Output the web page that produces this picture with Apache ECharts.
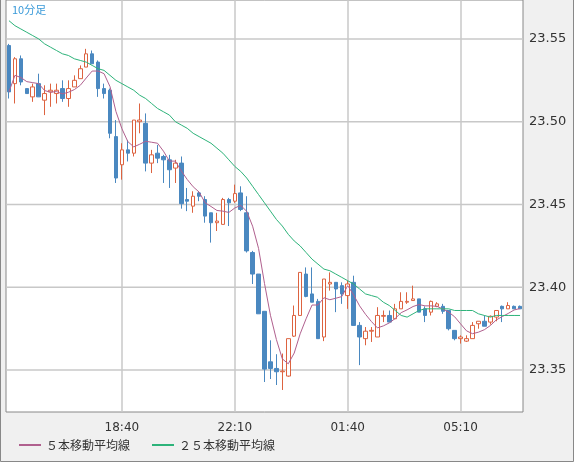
<!DOCTYPE html>
<html><head><meta charset="utf-8">
<script src="https://cdn.jsdelivr.net/npm/echarts@6/dist/echarts.min.js"></script>
<style>html,body{margin:0;padding:0;background:#f0f0f0}#c{width:574px;height:462px}</style>
</head><body><div id="c"></div>
<script>
// [open, close, low, high]
const ohlc = [
[23.546,23.518,23.514,23.547],[23.523,23.538,23.511,23.539],[23.538,23.524,23.522,23.540],[23.520,23.517,23.517,23.520],
[23.515,23.521,23.512,23.523],[23.523,23.515,23.515,23.529],[23.513,23.517,23.504,23.522],[23.518,23.519,23.509,23.523],
[23.517,23.519,23.511,23.523],[23.520,23.514,23.512,23.525],[23.514,23.520,23.509,23.525],[23.521,23.525,23.521,23.528],
[23.526,23.532,23.526,23.534],[23.533,23.541,23.533,23.544],[23.541,23.535,23.535,23.543],[23.536,23.520,23.515,23.537],
[23.520,23.517,23.514,23.523],[23.519,23.493,23.490,23.520],[23.491,23.466,23.463,23.501],[23.474,23.483,23.465,23.487],
[23.483,23.481,23.476,23.489],[23.481,23.501,23.479,23.501],[23.500,23.501,23.493,23.511],[23.499,23.475,23.470,23.505],
[23.475,23.480,23.469,23.483],[23.481,23.478,23.475,23.486],[23.479,23.477,23.463,23.480],[23.477,23.471,23.460,23.480],
[23.472,23.475,23.463,23.477],[23.475,23.4505,23.4475,23.479],[23.453,23.452,23.446,23.460],[23.449,23.455,23.445,23.458],
[23.457,23.455,23.452,23.458],[23.453,23.443,23.439,23.455],[23.445,23.439,23.427,23.445],[23.439,23.440,23.434,23.445],
[23.438,23.453,23.438,23.454],[23.453,23.451,23.437,23.454],[23.452,23.4566,23.451,23.462],[23.457,23.447,23.446,23.461],
[23.445,23.422,23.421,23.455],[23.421,23.408,23.402,23.422],[23.408,23.384,23.384,23.408],[23.3855,23.3506,23.3428,23.3855],
[23.355,23.351,23.3446,23.368],[23.351,23.349,23.341,23.3596],[23.349,23.3494,23.338,23.360],[23.3464,23.369,23.346,23.369],
[23.3705,23.383,23.370,23.389],[23.383,23.409,23.383,23.409],[23.408,23.3945,23.394,23.412],[23.396,23.391,23.391,23.412],
[23.3915,23.369,23.369,23.393],[23.370,23.405,23.3675,23.405],[23.402,23.403,23.398,23.409],[23.403,23.399,23.385,23.403],
[23.401,23.396,23.390,23.403],[23.395,23.402,23.387,23.404],[23.403,23.377,23.377,23.407],[23.377,23.370,23.353,23.379],
[23.369,23.3735,23.365,23.376],[23.3735,23.374,23.367,23.376],[23.370,23.383,23.370,23.388],[23.3825,23.383,23.379,23.386],
[23.383,23.379,23.379,23.386],[23.381,23.387,23.381,23.390],[23.387,23.3915,23.387,23.397],[23.391,23.3915,23.390,23.397],
[23.392,23.393,23.392,23.401],[23.393,23.385,23.385,23.393],[23.387,23.383,23.379,23.3885],[23.385,23.3915,23.383,23.392],
[23.3885,23.390,23.388,23.391],[23.3885,23.3855,23.384,23.390],[23.386,23.375,23.374,23.386],[23.374,23.369,23.368,23.374],
[23.369,23.370,23.366,23.371],[23.3675,23.369,23.367,23.371],[23.369,23.377,23.369,23.379],[23.378,23.3795,23.375,23.3795],
[23.3795,23.3765,23.3765,23.383],[23.379,23.3825,23.3775,23.383],[23.382,23.386,23.3795,23.386],[23.3885,23.387,23.379,23.389],
[23.387,23.389,23.387,23.391],[23.3885,23.387,23.387,23.389],[23.3885,23.387,23.387,23.389]
];
const ma25 = [
23.561,23.558,23.556,23.554,23.552,23.550,23.547,23.545,23.543,23.541,23.540,23.538,23.537,23.536,23.534,23.532,
23.531,23.528,23.525,23.523,23.521,23.519,23.516,23.514,23.511,23.508,23.506,23.504,23.500,23.498,23.496,23.493,
23.491,23.489,23.487,23.484,23.481,23.477,23.473,23.470,23.466,23.461,23.456,23.451,23.446,23.441,23.437,23.432,
23.428,23.425,23.421,23.417,23.414,23.411,23.410,23.408,23.406,23.404,23.402,23.399,23.396,23.395,23.394,23.391,
23.389,23.386,23.383,23.382,23.384,23.386,23.387,23.387,23.387,23.387,23.387,23.386,23.386,23.386,23.386,23.384,
23.383,23.382,23.383,23.383,23.383,23.383,23.383
];
const tickLabels = {19:'18:40',38:'22:10',57:'01:40',76:'05:10'};
const yTicks = [23.35,23.40,23.45,23.50,23.55];
const categories = ohlc.map((d,i)=>String(i));
const ma5 = ohlc.map((d,i)=>{const s=ohlc.slice(Math.max(0,i-4),i+1);return +(s.reduce((a,b)=>a+b[1],0)/s.length).toFixed(4);});

const chart = echarts.init(document.getElementById('c'));
const F = 'DejaVu Sans';
const gridLine = {color:'#c8c8c8',width:1.5,type:'solid'};
chart.setOption({
  animation:false,
  backgroundColor:'#f0f0f0',
  textStyle:{fontFamily:F},
  graphic:[
    {type:'rect',shape:{x:0.5,y:-1,width:573,height:462.5},style:{fill:'none',stroke:'#888',lineWidth:1},z:100},
    {type:'text',left:12,top:4,style:{text:'10分足',fill:'#3a9ad9',font:'11px "Noto Sans CJK JP"'}}
  ],
  grid:{left:6,right:51,top:0,bottom:50,show:true,backgroundColor:'#fff',borderColor:'#888',borderWidth:1},
  legend:{left:14,bottom:6,itemGap:22,itemWidth:22,itemHeight:2,icon:'rect',
    textStyle:{fontSize:12,color:'#333',fontFamily:'Noto Sans CJK JP'},
    data:['５本移動平均線','２５本移動平均線']},
  xAxis:{type:'category',data:categories,boundaryGap:true,
    axisLine:{show:false},axisTick:{show:false},splitLine:{show:false},
    axisLabel:{interval:0,margin:10,color:'#333',fontSize:12,fontFamily:F,
      formatter:(v,i)=>tickLabels[i]||''}},
  yAxis:{type:'value',position:'right',min:23.3247,max:23.5735,
    axisLine:{show:false},axisTick:{show:false},splitLine:{show:false},
    axisLabel:{customValues:yTicks,margin:6,color:'#333',fontSize:13,formatter:v=>v.toFixed(2)}},
  series:[
    {type:'custom',silent:true,z:1,data:yTicks.map(v=>[0,v]),
      renderItem:(params,api)=>{
        const p = api.coord([0, api.value(1)]);
        const cs = params.coordSys;
        return {type:'line',shape:{x1:cs.x,y1:p[1],x2:cs.x+cs.width,y2:p[1]},
          style:{stroke:'#c8c8c8',lineWidth:1.5}};
      }},
    {type:'candlestick',data:ohlc,barWidth:4,z:3,
      itemStyle:{color:'#ffffff',color0:'#4a88c0',borderColor:'#dd6340',borderColor0:'#4a88c0',borderWidth:1},
      markLine:{silent:true,symbol:'none',label:{show:false},lineStyle:gridLine,z:1,
        data:Object.keys(tickLabels).map(k=>({xAxis:+k}))}},
    {name:'５本移動平均線',type:'line',data:ma5,showSymbol:false,z:4,lineStyle:{color:'#b0608e',width:1},itemStyle:{color:'#b0608e'}},
    {name:'２５本移動平均線',type:'line',data:ma25,showSymbol:false,z:4,lineStyle:{color:'#2db37a',width:1},itemStyle:{color:'#2db37a'}}
  ]
});
</script></body></html>
